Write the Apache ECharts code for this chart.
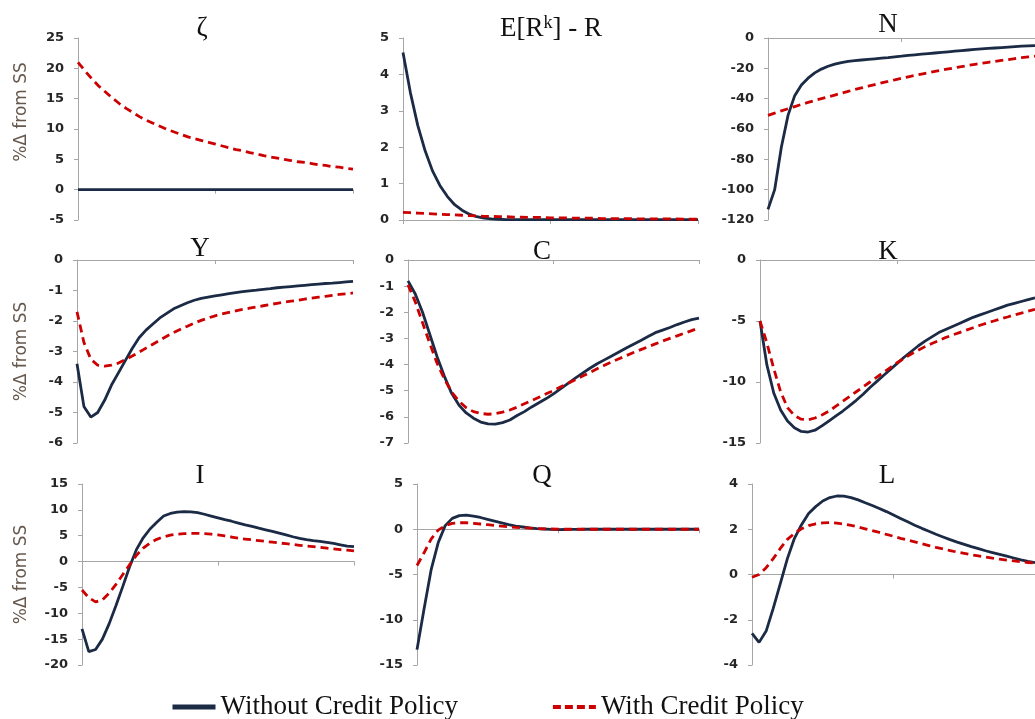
<!DOCTYPE html>
<html>
<head>
<meta charset="utf-8">
<title>Credit policy impulse responses</title>
<script src="https://cdn.jsdelivr.net/npm/echarts@6/dist/echarts.min.js"></script>
<style>
  html, body { margin: 0; padding: 0; background: #fff; }
  #chart { width: 1035px; height: 719px; }
</style>
</head>
<body>
<div id="chart"></div>
<script>
// quarters after the shock
const periods = [
  '0', '1', '2', '3', '4', '5', '6', '7', '8', '9', '10', '11', '12', '13', '14', '15', '16', '17', '18', '19', '20',
  '21', '22', '23', '24', '25', '26', '27', '28', '29', '30', '31', '32', '33', '34', '35', '36', '37', '38', '39', '40'
];

// zeta
const zetaNo = [0, 0, 0, 0, 0, 0, 0, 0, 0, 0, 0, 0, 0, 0, 0, 0, 0, 0, 0, 0, 0, 0, 0, 0, 0, 0, 0, 0, 0, 0, 0, 0, 0, 0, 0, 0, 0, 0, 0, 0, 0];
const zetaWith = [21.0, 19.6, 18.3, 17.1, 16.1, 15.1, 14.2, 13.4, 12.7, 12.0, 11.4, 10.9, 10.4, 9.9, 9.5, 9.1, 8.7, 8.4, 8.1, 7.8, 7.5,
  7.2, 6.9, 6.6, 6.4, 6.1, 5.9, 5.6, 5.4, 5.2, 5.0, 4.8, 4.6, 4.5, 4.3, 4.1, 4.0, 3.8, 3.7, 3.5, 3.4];
const zetaTicks = [-5, 0, 5, 10, 15, 20, 25];

// E[R^k] - R
const spreadNo = [4.6, 3.5, 2.6, 1.9, 1.35, 0.95, 0.65, 0.42, 0.27, 0.16, 0.09, 0.05, 0.03, 0.02, 0.01, 0.01, 0.01, 0.01, 0.01, 0.01, 0.01,
  0.01, 0.01, 0.01, 0.01, 0.01, 0.01, 0.01, 0.01, 0.01, 0.01, 0.01, 0.01, 0.01, 0.01, 0.01, 0.01, 0.01, 0.01, 0.01, 0.01];
const spreadWith = [0.21, 0.2, 0.19, 0.18, 0.17, 0.16, 0.15, 0.14, 0.13, 0.12, 0.11, 0.1, 0.1, 0.09, 0.09, 0.08, 0.08, 0.07, 0.07, 0.07, 0.06,
  0.06, 0.06, 0.05, 0.05, 0.05, 0.05, 0.04, 0.04, 0.04, 0.04, 0.04, 0.03, 0.03, 0.03, 0.03, 0.03, 0.03, 0.02, 0.02, 0.02];
const spreadTicks = [0, 1, 2, 3, 4, 5];

// N
const netNo = [-113, -100, -72, -51, -38, -31, -26.5, -23, -20.5, -18.6, -17.2, -16.2, -15.4, -14.9, -14.5, -14.1, -13.7, -13.3, -12.9, -12.4, -12.0,
  -11.5, -11.1, -10.7, -10.3, -9.9, -9.5, -9.1, -8.7, -8.3, -7.9, -7.5, -7.2, -6.9, -6.6, -6.3, -6.0, -5.7, -5.4, -5.2, -5.0];
const netWith = [-51.0, -49.5, -48.0, -46.6, -45.2, -43.8, -42.5, -41.2, -40.0, -38.8, -37.6, -36.4, -35.2, -34.0, -32.9, -31.8, -30.7, -29.6, -28.6, -27.6, -26.6,
  -25.6, -24.7, -23.8, -22.9, -22.0, -21.2, -20.4, -19.6, -18.8, -18.1, -17.4, -16.7, -16.0, -15.4, -14.8, -14.2, -13.6, -13.0, -12.5, -12.0];
const netTicks = [-120, -100, -80, -60, -40, -20, 0];

// Y
const outputNo = [-3.4, -4.8, -5.15, -5.0, -4.6, -4.1, -3.7, -3.3, -2.9, -2.55, -2.3, -2.1, -1.9, -1.75, -1.6, -1.5, -1.4, -1.32, -1.26, -1.22, -1.18,
  -1.14, -1.1, -1.07, -1.04, -1.01, -0.99, -0.96, -0.94, -0.91, -0.89, -0.87, -0.85, -0.83, -0.81, -0.79, -0.77, -0.76, -0.74, -0.72, -0.7];
const outputWith = [-1.7, -2.7, -3.25, -3.45, -3.48, -3.45, -3.38, -3.27, -3.15, -3.02, -2.89, -2.76, -2.63, -2.5, -2.38, -2.27, -2.17, -2.07, -1.98, -1.9, -1.83,
  -1.77, -1.72, -1.67, -1.62, -1.58, -1.54, -1.5, -1.46, -1.42, -1.38, -1.35, -1.32, -1.28, -1.25, -1.22, -1.19, -1.16, -1.13, -1.11, -1.08];
const outputTicks = [-6, -5, -4, -3, -2, -1, 0];

// C
const consNo = [-0.8, -1.3, -2.0, -2.85, -3.7, -4.45, -5.1, -5.55, -5.85, -6.05, -6.2, -6.27, -6.28, -6.22, -6.12, -5.95, -5.8, -5.62, -5.46, -5.3, -5.12,
  -4.92, -4.72, -4.52, -4.33, -4.14, -3.97, -3.82, -3.67, -3.52, -3.37, -3.22, -3.08, -2.93, -2.78, -2.68, -2.58, -2.47, -2.37, -2.28, -2.22];
const consWith = [-0.95, -1.6, -2.4, -3.2, -3.95, -4.55, -5.05, -5.4, -5.65, -5.8, -5.87, -5.9, -5.88, -5.82, -5.74, -5.63, -5.5, -5.38, -5.25, -5.12, -4.99,
  -4.85, -4.72, -4.58, -4.44, -4.3, -4.16, -4.03, -3.9, -3.78, -3.66, -3.54, -3.43, -3.32, -3.21, -3.1, -3.0, -2.9, -2.8, -2.7, -2.6];
const consTicks = [-7, -6, -5, -4, -3, -2, -1, 0];

// K
const capNo = [-5.0, -8.6, -10.9, -12.3, -13.2, -13.75, -14.05, -14.1, -13.95, -13.6, -13.2, -12.8, -12.4, -11.95, -11.5, -11.0, -10.45, -9.95, -9.45, -8.95, -8.45,
  -7.95, -7.5, -7.05, -6.65, -6.3, -5.95, -5.7, -5.45, -5.2, -4.95, -4.7, -4.5, -4.3, -4.1, -3.9, -3.7, -3.55, -3.4, -3.25, -3.1];
const capWith = [-5.0, -6.8, -8.9, -10.8, -12.1, -12.75, -13.05, -13.1, -12.95, -12.7, -12.4, -12.0, -11.6, -11.2, -10.8, -10.4, -10.0, -9.6, -9.2, -8.8, -8.4,
  -8.05, -7.7, -7.4, -7.1, -6.85, -6.6, -6.35, -6.15, -5.95, -5.75, -5.55, -5.35, -5.17, -5.0, -4.83, -4.67, -4.5, -4.35, -4.2, -4.05];
const capTicks = [-15, -10, -5, 0];

// I
const invNo = [-13.0, -17.4, -17.0, -15.0, -12.0, -8.5, -4.8, -1.0, 2.3, 4.6, 6.3, 7.6, 8.8, 9.3, 9.55, 9.65, 9.6, 9.45, 9.15, 8.8, 8.45,
  8.1, 7.8, 7.45, 7.1, 6.8, 6.45, 6.15, 5.85, 5.5, 5.15, 4.8, 4.5, 4.25, 4.05, 3.9, 3.7, 3.5, 3.25, 3.0, 2.9];
const invWith = [-5.5, -7.0, -7.8, -7.4, -6.1, -4.4, -2.5, -0.6, 1.2, 2.6, 3.6, 4.3, 4.8, 5.1, 5.3, 5.4, 5.45, 5.45, 5.4, 5.3, 5.15,
  4.95, 4.75, 4.5, 4.35, 4.2, 4.05, 3.9, 3.75, 3.6, 3.45, 3.3, 3.15, 3.0, 2.9, 2.75, 2.6, 2.45, 2.3, 2.2, 2.05];
const invTicks = [-20, -15, -10, -5, 0, 5, 10, 15];

// Q
const qNo = [-13.3, -8.8, -4.5, -1.5, 0.4, 1.2, 1.5, 1.55, 1.45, 1.3, 1.1, 0.9, 0.7, 0.5, 0.35, 0.25, 0.15, 0.08, 0.03, -0.02, -0.04,
  -0.03, -0.02, -0.01, 0, 0, 0, 0, 0, 0, 0, 0, 0, 0, 0, 0, 0, 0, 0, 0, 0];
const qWith = [-4.0, -2.6, -1.1, -0.1, 0.4, 0.65, 0.72, 0.72, 0.66, 0.58, 0.5, 0.42, 0.34, 0.27, 0.21, 0.16, 0.12, 0.08, 0.05, 0.03, 0.01,
  0, 0, 0, 0, 0, 0, 0, 0, 0, 0, 0, 0, 0, 0, 0, 0, 0, 0, 0, 0];
const qTicks = [-15, -10, -5, 0, 5];

// L
const laborNo = [-2.6, -3.0, -2.5, -1.5, -0.4, 0.7, 1.6, 2.2, 2.7, 3.0, 3.25, 3.4, 3.47, 3.46, 3.4, 3.3, 3.17, 3.05, 2.92, 2.78, 2.63,
  2.48, 2.33, 2.18, 2.04, 1.91, 1.78, 1.66, 1.54, 1.43, 1.33, 1.23, 1.14, 1.05, 0.97, 0.89, 0.81, 0.73, 0.65, 0.58, 0.52];
const laborWith = [-0.12, 0.0, 0.3, 0.7, 1.15, 1.55, 1.82, 2.02, 2.16, 2.24, 2.28, 2.29, 2.27, 2.23, 2.17, 2.1, 2.02, 1.94, 1.86, 1.77, 1.69,
  1.6, 1.52, 1.44, 1.36, 1.28, 1.2, 1.13, 1.06, 0.99, 0.93, 0.87, 0.82, 0.77, 0.72, 0.68, 0.64, 0.6, 0.56, 0.53, 0.5];
const laborTicks = [-4, -2, 0, 2, 4];

const NO_POLICY = 'Without Credit Policy';
const WITH_POLICY = 'With Credit Policy';
const navy = '#1b2a45';
const red = '#cc0000';
const axisGray = '#a6a6a6';

// layout: box = [left, top, width, height], head = [title centre x, title top]
const panels = [
  { title: 'ζ', no: zetaNo, yes: zetaWith, ticks: zetaTicks, box: [78, 38, 275, 182], head: [202, 14], yName: true, nameShift: 34 },
  { title: '{b|E[R}{s|k}{b|] - R}', no: spreadNo, yes: spreadWith, ticks: spreadTicks, box: [403, 38, 295, 182], head: [551, 14] },
  { title: 'N', no: netNo, yes: netWith, ticks: netTicks, box: [768, 38, 280, 182], head: [888, 10] },
  { title: 'Y', no: outputNo, yes: outputWith, ticks: outputTicks, box: [77, 260, 276, 183], head: [200, 234], yName: true },
  { title: 'C', no: consNo, yes: consWith, ticks: consTicks, box: [408, 260, 291, 183], head: [542, 237] },
  { title: 'K', no: capNo, yes: capWith, ticks: capTicks, box: [760, 260, 286, 183], head: [888, 237] },
  { title: 'I', no: invNo, yes: invWith, ticks: invTicks, box: [82, 484, 272, 181], head: [200, 461], yName: true },
  { title: 'Q', no: qNo, yes: qWith, ticks: qTicks, box: [417, 484, 282, 181], head: [542, 461] },
  { title: 'L', no: laborNo, yes: laborWith, ticks: laborTicks, box: [752, 484, 294, 181], head: [887, 461] }
];

const chart = echarts.init(document.getElementById('chart'), null, { renderer: 'canvas' });

const titleFont = {
  fontFamily: 'Liberation Serif',
  fontWeight: 'normal',
  fontSize: 27,
  lineHeight: 29,
  color: '#111',
  rich: {
    b: { fontFamily: 'Liberation Serif', fontSize: 27, lineHeight: 29, color: '#111' },
    s: { fontFamily: 'Liberation Serif', fontSize: 18, lineHeight: 18, color: '#111', verticalAlign: 'top' }
  }
};

const option = {
  backgroundColor: '#fff',
  animation: false,
  title: panels.map((p) => ({
    text: p.title,
    left: p.head[0],
    top: p.head[1],
    textAlign: 'center',
    padding: 0,
    textStyle: titleFont
  })),
  legend: {
    left: 170,
    top: 686,
    padding: 0,
    itemWidth: 43,
    itemHeight: 14,
    itemGap: 93,
    selectedMode: false,
    itemStyle: { opacity: 0 },
    textStyle: { fontFamily: 'Liberation Serif', fontSize: 27, lineHeight: 30, color: '#111', padding: [12, 0, 0, 0] },
    data: [
      { name: NO_POLICY, itemStyle: { opacity: 0 }, lineStyle: { width: 5 } },
      { name: WITH_POLICY, itemStyle: { opacity: 0 }, lineStyle: { width: 4, type: [8, 4] } }
    ]
  },
  grid: panels.map((p) => ({
    left: p.box[0],
    top: p.box[1],
    width: p.box[2],
    height: p.box[3],
    containLabel: false
  })),
  xAxis: panels.map((p, i) => ({
    type: 'category',
    gridIndex: i,
    data: periods,
    boundaryGap: false,
    axisLine: { onZero: true, lineStyle: { color: axisGray, width: 1 } },
    axisTick: { show: true, interval: 19, length: 4, lineStyle: { color: axisGray } },
    axisLabel: { show: false },
    splitLine: { show: false }
  })),
  yAxis: panels.map((p, i) => ({
    type: 'value',
    gridIndex: i,
    min: p.ticks[0],
    max: p.ticks[p.ticks.length - 1],
    interval: p.ticks[1] - p.ticks[0],
    axisLine: { show: true, onZero: false, lineStyle: { color: axisGray, width: 1 } },
    axisTick: { show: true, length: 4, lineStyle: { color: axisGray } },
    axisLabel: {
      color: '#262626',
      fontFamily: 'DejaVu Sans',
      fontWeight: 'bold',
      fontSize: 13,
      margin: 14
    },
    splitLine: { show: false },
    name: p.yName ? '%Δ from SS' : '',
    nameLocation: 'middle',
    nameRotate: 90,
    nameGap: p.box[0] - 30,
    nameTextStyle: {
      fontFamily: 'DejaVu Sans',
      fontSize: 17,
      color: '#66584d',
      padding: p.nameShift ? [0, 0, 0, p.nameShift] : 0
    }
  })),
  series: panels.flatMap((p, i) => [
    {
      name: NO_POLICY,
      type: 'line',
      xAxisIndex: i,
      yAxisIndex: i,
      data: p.no,
      symbol: 'none',
      z: 3,
      itemStyle: { color: navy },
      lineStyle: { color: navy, width: 2.8 }
    },
    {
      name: WITH_POLICY,
      type: 'line',
      xAxisIndex: i,
      yAxisIndex: i,
      data: p.yes,
      symbol: 'none',
      z: 4,
      itemStyle: { color: red },
      lineStyle: { color: red, width: 2.8, type: [8, 5] }
    }
  ])
};

chart.setOption(option);
</script>
</body>
</html>
